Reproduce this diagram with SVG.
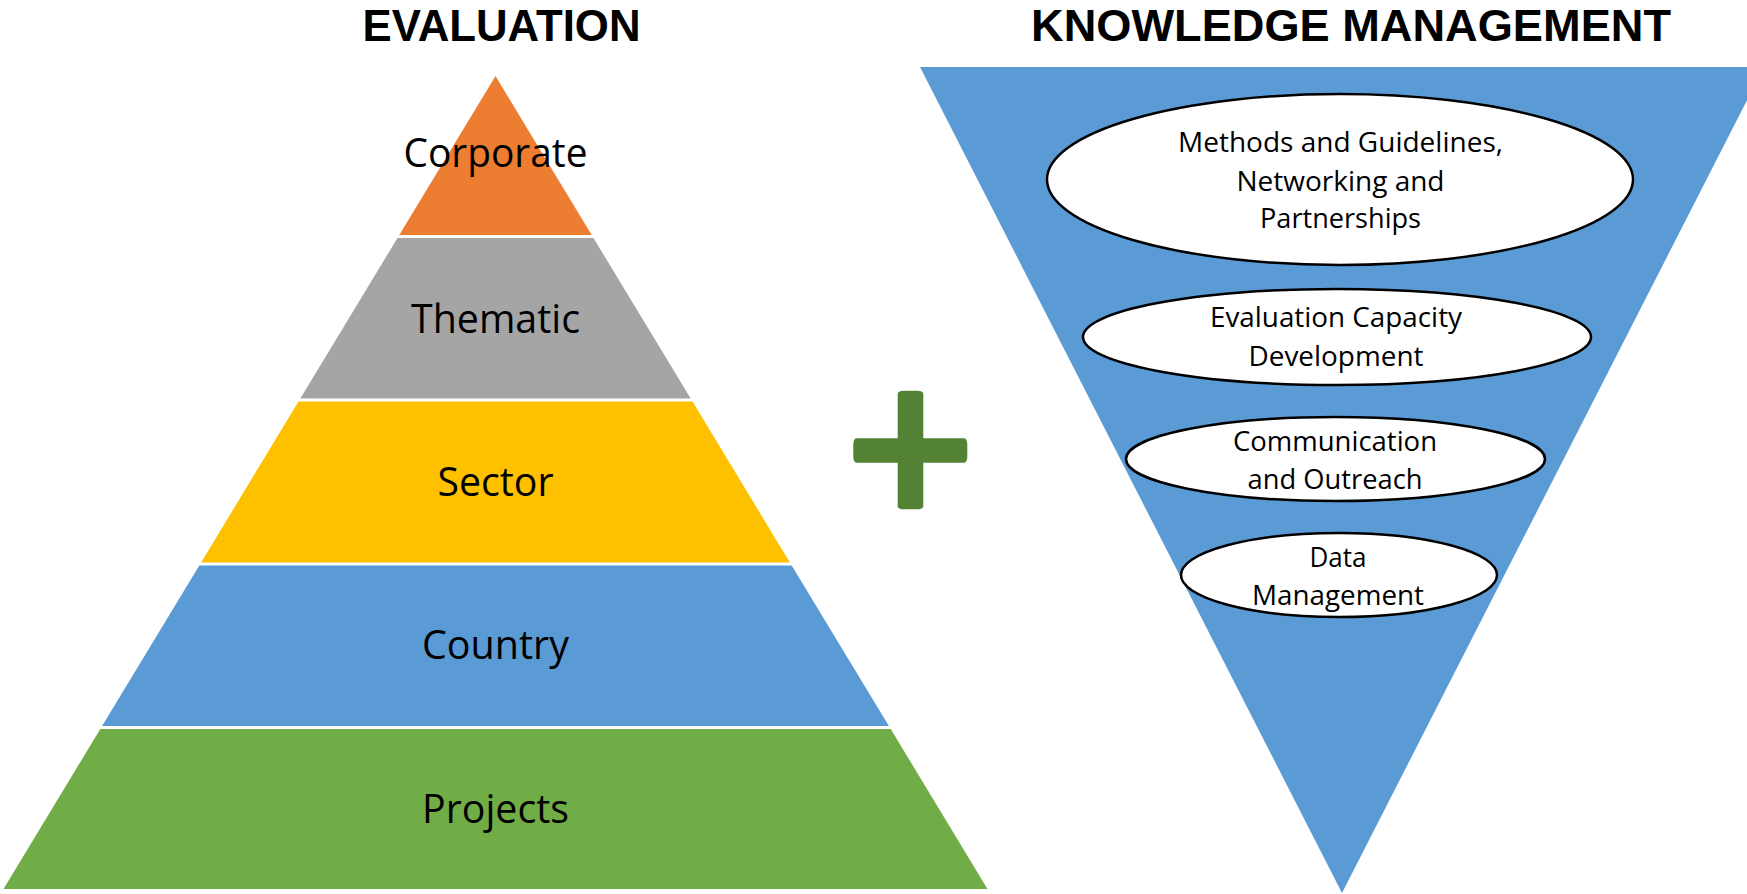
<svg xmlns="http://www.w3.org/2000/svg" width="1747" height="894" viewBox="0 0 1747 894">
  <style>
    .title { font-family: "Liberation Sans", Arial, sans-serif; font-weight: bold; font-size: 45px; fill: #000; text-anchor: middle; }
    .lvl { font-family: "Open Sans", "Liberation Sans", sans-serif; font-size: 41px; fill: #000; text-anchor: middle; }
    .km { font-family: "Open Sans", "Liberation Sans", sans-serif; font-size: 27px; fill: #000; text-anchor: middle; }
    .oval { fill: #ffffff; stroke: #000000; stroke-width: 2.5; }
  </style>
  <rect width="1747" height="894" fill="#ffffff"/>

  <g id="title-evaluation">
    <text class="title" x="501.5" y="41" textLength="278" lengthAdjust="spacingAndGlyphs">EVALUATION</text>
  </g>
  <g id="title-km">
    <text class="title" x="1351" y="41" textLength="640" lengthAdjust="spacingAndGlyphs">KNOWLEDGE MANAGEMENT</text>
  </g>

  <g id="pyramid">
    <g id="corporate">
      <polygon points="495.5,76 591.7,235 399.3,235" fill="#ED7D31"/>
      <text class="lvl" x="495.5" y="167" textLength="184" lengthAdjust="spacingAndGlyphs">Corporate</text>
    </g>
    <g id="thematic">
      <polygon points="397.5,238 593.5,238 690.7,398.5 300.3,398.5" fill="#A5A5A5"/>
      <text class="lvl" x="495.5" y="333" textLength="169" lengthAdjust="spacingAndGlyphs">Thematic</text>
    </g>
    <g id="sector">
      <polygon points="298.5,401.5 692.5,401.5 789.9,562.5 201.1,562.5" fill="#FFC000"/>
      <text class="lvl" x="495.5" y="496" textLength="116" lengthAdjust="spacingAndGlyphs">Sector</text>
    </g>
    <g id="country">
      <polygon points="199.3,565.5 791.7,565.5 888.9,726 102.1,726" fill="#5B9BD5"/>
      <text class="lvl" x="495.5" y="659" textLength="147" lengthAdjust="spacingAndGlyphs">Country</text>
    </g>
    <g id="projects">
      <polygon points="100.3,729 890.7,729 987.5,889 3.5,889" fill="#70AD47"/>
      <text class="lvl" x="495.5" y="823" textLength="147" lengthAdjust="spacingAndGlyphs">Projects</text>
    </g>
  </g>

  <g id="plus">
    <rect x="897.7" y="390.7" width="25.6" height="118.6" rx="6" ry="3" fill="#548235"/>
    <rect x="853.3" y="438.3" width="114" height="24.4" rx="3" ry="6" fill="#548235"/>
  </g>

  <g id="funnel">
    <polygon points="920,67 1764,67 1342,893" fill="#5B9BD5"/>
  </g>

  <g id="methods">
    <ellipse class="oval" cx="1340" cy="179.5" rx="293" ry="85.5"/>
    <text class="km" x="1340.5" y="152" textLength="325" lengthAdjust="spacingAndGlyphs">Methods and Guidelines,</text>
    <text class="km" x="1340.5" y="191" textLength="208" lengthAdjust="spacingAndGlyphs">Networking and</text>
    <text class="km" x="1340.5" y="228" textLength="161" lengthAdjust="spacingAndGlyphs">Partnerships</text>
  </g>
  <g id="capacity">
    <ellipse class="oval" cx="1337" cy="337" rx="254" ry="48"/>
    <text class="km" x="1336" y="327" textLength="252" lengthAdjust="spacingAndGlyphs">Evaluation Capacity</text>
    <text class="km" x="1336" y="366" textLength="175" lengthAdjust="spacingAndGlyphs">Development</text>
  </g>
  <g id="communication">
    <ellipse class="oval" cx="1335.5" cy="459" rx="209.5" ry="42"/>
    <text class="km" x="1335" y="451" textLength="204" lengthAdjust="spacingAndGlyphs">Communication</text>
    <text class="km" x="1335" y="489" textLength="175" lengthAdjust="spacingAndGlyphs">and Outreach</text>
  </g>
  <g id="data">
    <ellipse class="oval" cx="1339" cy="575" rx="158" ry="42"/>
    <text class="km" x="1338" y="567" textLength="57" lengthAdjust="spacingAndGlyphs">Data</text>
    <text class="km" x="1338" y="605" textLength="172" lengthAdjust="spacingAndGlyphs">Management</text>
  </g>
</svg>
